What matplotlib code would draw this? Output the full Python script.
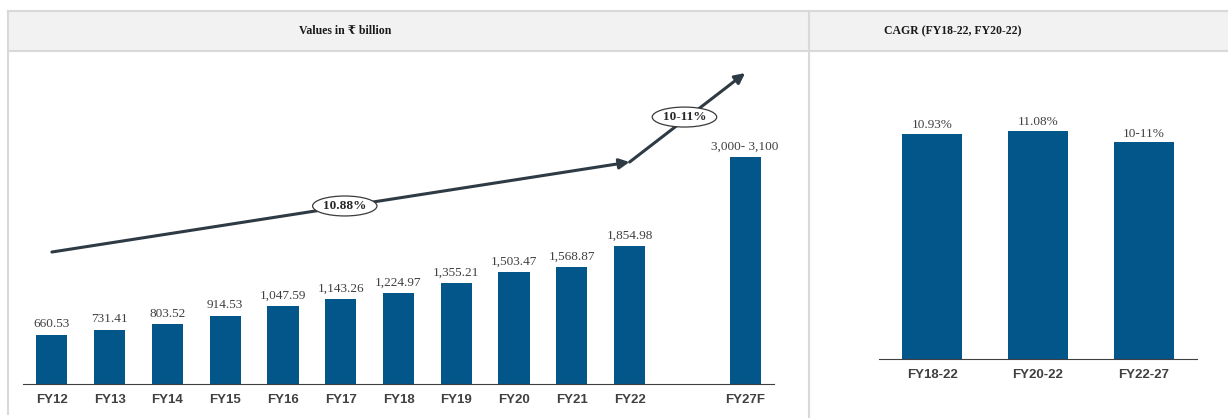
import matplotlib.pyplot as plt
from matplotlib.lines import Line2D
from matplotlib.patches import Rectangle

# data
years = ['FY12', 'FY13', 'FY14', 'FY15', 'FY16', 'FY17', 'FY18', 'FY19', 'FY20', 'FY21', 'FY22', 'FY27F']
year_pos = [0, 1, 2, 3, 4, 5, 6, 7, 8, 9, 10, 12]
values = [660.53, 731.41, 803.52, 914.53, 1047.59, 1143.26, 1224.97, 1355.21, 1503.47, 1568.87, 1854.98, 3050]
value_labels = ['660.53', '731.41', '803.52', '914.53', '1,047.59', '1,143.26', '1,224.97', '1,355.21',
                '1,503.47', '1,568.87', '1,854.98', '3,000- 3,100']

cagr_periods = ['FY18-22', 'FY20-22', 'FY22-27']
cagr_values = [10.93, 11.08, 10.5]
cagr_labels = ['10.93%', '11.08%', '10-11%']

BAR = '#02568a'
TXT = '#404040'
LINE = '#2e3a44'
SERIF = ['Liberation Serif', 'DejaVu Serif', 'DejaVu Sans']
SANS = ['Liberation Sans', 'DejaVu Sans']

W, H = 1228, 418
fig = plt.figure(figsize=(W / 100, H / 100), dpi=100)


def px(x0, y0, x1, y1):
    # pixel box -> figure fraction rect
    return [x0 / W, 1 - y1 / H, (x1 - x0) / W, (y1 - y0) / H]


# frame and header band
fig.patches.append(Rectangle((8 / W, 1 - 51 / H), (W - 8) / W, 40 / H, transform=fig.transFigure,
                             facecolor='#f2f2f2', edgecolor='none', zorder=0))
for xs, ys in [([8, W], [11, 11]), ([8, W], [51, 51]), ([8, 8], [11, 414]), ([809, 809], [11, 418])]:
    fig.lines.append(Line2D([x / W for x in xs], [1 - y / H for y in ys], transform=fig.transFigure,
                            color='#d9d9d9', lw=1.5))
fig.text(345 / W, 1 - 31 / H, 'Values in ₹ billion', family=SERIF, fontweight='bold',
         fontsize=8.5, color='#1a1a1a', ha='center', va='center')
fig.text(953 / W, 1 - 31 / H, 'CAGR (FY18-22, FY20-22)', family=SERIF, fontweight='bold',
         fontsize=8.5, color='#1a1a1a', ha='center', va='center')

# left chart
ax = fig.add_axes(px(23, 60, 774, 384))
bars = ax.bar(year_pos, values, width=0.54, color=BAR)
ax.set_xlim(-0.5, 12.5)
ax.set_ylim(0, 4350)
for b, lab in zip(bars, value_labels):
    ax.text(b.get_x() + b.get_width() / 2, b.get_height() + 60, lab, ha='center', va='bottom',
            family=SERIF, fontsize=9.5, color=TXT)
ax.set_xticks(year_pos)
ax.set_xticklabels(years, family=SANS, fontweight='bold', fontsize=9.5, color=TXT)
ax.tick_params(length=0, pad=7)
ax.set_yticks([])
for s in ['top', 'right', 'left']:
    ax.spines[s].set_visible(False)
ax.spines['bottom'].set_color('#404040')

# trend arrows
ax.annotate('', xy=(10, 2980), xytext=(0, 1772),
            arrowprops=dict(arrowstyle='-|>,head_length=0.6,head_width=0.3', color=LINE, lw=2.2,
                            shrinkA=0, shrinkB=0))
ax.annotate('', xy=(12, 4175), xytext=(10, 2980),
            arrowprops=dict(arrowstyle='-|>,head_length=0.6,head_width=0.3', color=LINE, lw=2.2,
                            shrinkA=0, shrinkB=0))
ax.text(5.07, 2390, '10.88%', ha='center', va='center', family=SERIF, fontweight='bold',
        fontsize=9.5, color='#262626',
        bbox=dict(boxstyle='ellipse,pad=0.08', facecolor='white', edgecolor='#3a3a3a', lw=0.9))
ax.text(10.95, 3584, '10-11%', ha='center', va='center', family=SERIF, fontweight='bold',
        fontsize=9.5, color='#262626',
        bbox=dict(boxstyle='ellipse,pad=0.08', facecolor='white', edgecolor='#3a3a3a', lw=0.9))

# right chart
ax2 = fig.add_axes(px(879, 60, 1197, 359))
bars2 = ax2.bar(range(len(cagr_periods)), cagr_values, width=0.56, color=BAR)
ax2.set_xlim(-0.5, 2.5)
ax2.set_ylim(0, 14.5)
for b, lab in zip(bars2, cagr_labels):
    ax2.text(b.get_x() + b.get_width() / 2, b.get_height() + 0.12, lab, ha='center', va='bottom',
             family=SERIF, fontsize=9.5, color=TXT)
ax2.set_xticks(range(len(cagr_periods)))
ax2.set_xticklabels(cagr_periods, family=SANS, fontweight='bold', fontsize=9.5, color=TXT)
ax2.tick_params(length=0, pad=7)
ax2.set_yticks([])
for s in ['top', 'right', 'left']:
    ax2.spines[s].set_visible(False)
ax2.spines['bottom'].set_color('#404040')

fig.savefig('out.png', dpi=100)
